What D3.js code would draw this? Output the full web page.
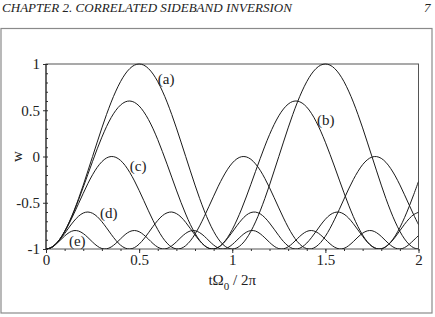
<!DOCTYPE html>
<html>
<head>
<meta charset="utf-8">
<script src="https://cdn.jsdelivr.net/npm/d3@7"></script>
<style>
  body { margin: 0; background: #fff; }
  svg text { font-family: "Liberation Serif", "DejaVu Serif", serif; fill: #222; }
</style>
</head>
<body>
<div id="chart"></div>
<script>
// time axis samples, tΩ0 / 2π
var tValues = [0, 0.025, 0.05, 0.075, 0.1, 0.125, 0.15, 0.175, 0.2, 0.225, 0.25, 0.275, 0.3, 0.325, 0.35, 0.375, 0.4, 0.425, 0.45, 0.475,
  0.5, 0.525, 0.55, 0.575, 0.6, 0.625, 0.65, 0.675, 0.7, 0.725, 0.75, 0.775, 0.8, 0.825, 0.85, 0.875, 0.9, 0.925, 0.95, 0.975,
  1, 1.025, 1.05, 1.075, 1.1, 1.125, 1.15, 1.175, 1.2, 1.225, 1.25, 1.275, 1.3, 1.325, 1.35, 1.375, 1.4, 1.425, 1.45, 1.475,
  1.5, 1.525, 1.55, 1.575, 1.6, 1.625, 1.65, 1.675, 1.7, 1.725, 1.75, 1.775, 1.8, 1.825, 1.85, 1.875, 1.9, 1.925, 1.95, 1.975, 2];

var wA = [-1, -0.988, -0.951, -0.891, -0.809, -0.707, -0.588, -0.454, -0.309, -0.156, 0, 0.156, 0.309, 0.454, 0.588, 0.707, 0.809, 0.891, 0.951, 0.988,
  1, 0.988, 0.951, 0.891, 0.809, 0.707, 0.588, 0.454, 0.309, 0.156, 0, -0.156, -0.309, -0.454, -0.588, -0.707, -0.809, -0.891, -0.951, -0.988,
  -1, -0.988, -0.951, -0.891, -0.809, -0.707, -0.588, -0.454, -0.309, -0.156, 0, 0.156, 0.309, 0.454, 0.588, 0.707, 0.809, 0.891, 0.951, 0.988,
  1, 0.988, 0.951, 0.891, 0.809, 0.707, 0.588, 0.454, 0.309, 0.156, 0, -0.156, -0.309, -0.454, -0.588, -0.707, -0.809, -0.891, -0.951, -0.988, -1];

var wB = [-1, -0.988, -0.951, -0.892, -0.811, -0.711, -0.596, -0.468, -0.332, -0.192, -0.053, 0.083, 0.209, 0.323, 0.421, 0.499, 0.556, 0.590, 0.600, 0.585,
  0.546, 0.483, 0.400, 0.299, 0.182, 0.053, -0.083, -0.223, -0.363, -0.497, -0.622, -0.735, -0.830, -0.907, -0.961, -0.993, -0.999, -0.982, -0.940, -0.875,
  -0.790, -0.686, -0.568, -0.438, -0.301, -0.161, -0.022, 0.112, 0.236, 0.346, 0.440, 0.514, 0.566, 0.595, 0.599, 0.578, 0.534, 0.467, 0.379, 0.274,
  0.154, 0.023, -0.114, -0.255, -0.393, -0.526, -0.649, -0.758, -0.849, -0.921, -0.970, -0.996, -0.998, -0.974, -0.927, -0.858, -0.768, -0.661, -0.540, -0.408, -0.270];

var wC = [-1, -0.988, -0.951, -0.893, -0.815, -0.722, -0.618, -0.508, -0.398, -0.292, -0.197, -0.117, -0.056, -0.016, 0, -0.009, -0.042, -0.097, -0.173, -0.264,
  -0.367, -0.476, -0.587, -0.693, -0.790, -0.873, -0.937, -0.980, -0.999, -0.994, -0.964, -0.912, -0.839, -0.750, -0.648, -0.539, -0.429, -0.321, -0.223, -0.138,
  -0.071, -0.025, -0.002, -0.004, -0.030, -0.080, -0.149, -0.237, -0.337, -0.445, -0.556, -0.664, -0.764, -0.851, -0.921, -0.970, -0.996, -0.998, -0.975, -0.929,
  -0.862, -0.777, -0.678, -0.571, -0.460, -0.351, -0.250, -0.161, -0.088, -0.036, -0.006, -0.001, -0.020, -0.063, -0.128, -0.210, -0.307, -0.414, -0.524, -0.634, -0.737];

var wD = [-1, -0.988, -0.953, -0.899, -0.833, -0.763, -0.698, -0.645, -0.611, -0.600, -0.614, -0.650, -0.705, -0.771, -0.841, -0.906, -0.958, -0.990, -1, -0.985,
  -0.947, -0.892, -0.825, -0.755, -0.691, -0.640, -0.609, -0.600, -0.617, -0.655, -0.712, -0.779, -0.848, -0.912, -0.962, -0.993, -0.999, -0.982, -0.942, -0.885,
  -0.818, -0.748, -0.685, -0.635, -0.606, -0.601, -0.620, -0.661, -0.719, -0.786, -0.856, -0.919, -0.967, -0.995, -0.999, -0.978, -0.936, -0.878, -0.810, -0.740,
  -0.678, -0.631, -0.605, -0.602, -0.623, -0.666, -0.726, -0.794, -0.863, -0.925, -0.971, -0.996, -0.998, -0.975, -0.931, -0.871, -0.802, -0.733, -0.672, -0.627, -0.603];

var wE = [-1, -0.988, -0.955, -0.908, -0.860, -0.821, -0.801, -0.806, -0.833, -0.876, -0.925, -0.968, -0.995, -0.998, -0.978, -0.939, -0.891, -0.844, -0.811, -0.800,
  -0.813, -0.847, -0.893, -0.942, -0.980, -0.999, -0.994, -0.966, -0.923, -0.874, -0.831, -0.805, -0.802, -0.823, -0.862, -0.911, -0.957, -0.989, -1, -0.987,
  -0.952, -0.905, -0.857, -0.819, -0.801, -0.806, -0.835, -0.879, -0.928, -0.970, -0.996, -0.998, -0.977, -0.937, -0.888, -0.842, -0.810, -0.800, -0.814, -0.849,
  -0.896, -0.944, -0.981, -0.999, -0.993, -0.964, -0.920, -0.871, -0.829, -0.804, -0.802, -0.824, -0.864, -0.913, -0.959, -0.990, -1, -0.985, -0.950, -0.903, -0.855];

var seriesNames = ["(a)", "(b)", "(c)", "(d)", "(e)"];
var seriesValues = [wA, wB, wC, wD, wE];
// where each curve label sits, in data units
var labelT = [0.60, 1.455, 0.45, 0.29, 0.123];
var labelW = [0.84, 0.395, -0.10, -0.61, -0.91];

var xTicks = [0, 0.5, 1, 1.5, 2];
var xTickLabels = ["0", "0.5", "1", "1.5", "2"];
var yTicks = [1, 0.5, 0, -0.5, -1];
var yTickLabels = ["1", "0.5", "0", "-0.5", "-1"];

var width = 435, height = 317;
var svg = d3.select("#chart").append("svg")
  .attr("width", width)
  .attr("height", height);

// page header (the scan cuts its top off; keep it readable here)
svg.append("text")
  .attr("x", 2).attr("y", 12)
  .attr("font-style", "italic")
  .attr("font-size", 13)
  .attr("textLength", 290)
  .attr("lengthAdjust", "spacingAndGlyphs")
  .text("CHAPTER 2.  CORRELATED SIDEBAND INVERSION");
svg.append("text")
  .attr("x", 424).attr("y", 12)
  .attr("font-style", "italic")
  .attr("font-size", 13)
  .text("7");

// outer frame
svg.append("rect")
  .attr("x", 1).attr("y", 28.5)
  .attr("width", 431).attr("height", 284.5)
  .attr("fill", "none")
  .attr("stroke", "#8a8a8a")
  .attr("stroke-width", 1.2);

var x = d3.scaleLinear().domain([0, 2]).range([46, 418.5]);
var y = d3.scaleLinear().domain([-1, 1]).range([249, 64]);

// plot box
svg.append("rect")
  .attr("x", x(0)).attr("y", y(1))
  .attr("width", x(2) - x(0)).attr("height", y(-1) - y(1))
  .attr("fill", "none")
  .attr("stroke", "#555")
  .attr("stroke-width", 1);

var xAxis = svg.append("g")
  .attr("transform", "translate(0," + y(-1) + ")")
  .call(d3.axisBottom(x).tickValues(d3.range(0, 2.0001, 0.1)).tickSize(2).tickFormat(""));
xAxis.append("g").call(d3.axisBottom(x).tickValues(xTicks).tickSize(4)
  .tickFormat(function(d, i) { return xTickLabels[i]; }));
xAxis.selectAll("path").remove();
xAxis.selectAll("line").attr("stroke", "#333");
xAxis.selectAll("text")
  .attr("font-size", 15)
  .attr("fill", "#222")
  .attr("dy", "0.6em")
  .attr("font-family", "Liberation Serif, serif");

var yAxis = svg.append("g")
  .attr("transform", "translate(" + x(0) + ",0)")
  .call(d3.axisRight(y).tickValues(d3.range(-1, 1.0001, 0.1)).tickSize(2).tickFormat(""));
yAxis.append("g").call(d3.axisLeft(y).tickValues(yTicks).tickSize(3)
  .tickFormat(function(d, i) { return yTickLabels[i]; }));
yAxis.selectAll("path").remove();
yAxis.selectAll("line").attr("stroke", "#333");
yAxis.selectAll("text")
  .attr("font-size", 15)
  .attr("fill", "#222")
  .attr("font-family", "Liberation Serif, serif");

svg.append("line")
  .attr("x1", x(0)).attr("x2", x(0))
  .attr("y1", y(1)).attr("y2", y(-1))
  .attr("stroke", "#222");

// axis titles
svg.append("text")
  .attr("transform", "translate(17," + y(0) + ") rotate(-90)")
  .attr("text-anchor", "middle")
  .attr("dy", "0.3em")
  .attr("font-size", 15)
  .text("w");

var xTitle = svg.append("text")
  .attr("x", x(1)).attr("y", 285)
  .attr("text-anchor", "middle")
  .attr("font-size", 15);
xTitle.append("tspan").text("tΩ");
xTitle.append("tspan").attr("font-size", 11).attr("dy", 5).text("0");
xTitle.append("tspan").attr("dy", -5).text(" / 2π");

// curves
svg.append("clipPath").attr("id", "plotClip")
  .append("rect")
  .attr("x", x(0)).attr("y", y(1) - 1)
  .attr("width", x(2) - x(0)).attr("height", y(-1) - y(1) + 1);

var line = d3.line()
  .x(function(d, i) { return x(tValues[i]); })
  .y(function(d) { return y(d); })
  .curve(d3.curveCatmullRom);

svg.append("g").attr("clip-path", "url(#plotClip)")
  .selectAll("path.curve")
  .data(seriesValues)
  .enter().append("path")
  .attr("class", "curve")
  .attr("d", line)
  .attr("fill", "none")
  .attr("stroke", "#1a1a1a")
  .attr("stroke-width", 1);

svg.selectAll("text.lbl")
  .data(seriesNames)
  .enter().append("text")
  .attr("class", "lbl")
  .attr("x", function(d, i) { return x(labelT[i]); })
  .attr("y", function(d, i) { return y(labelW[i]); })
  .attr("dy", "0.33em")
  .attr("font-size", 15)
  .text(function(d) { return d; });
</script>
</body>
</html>
